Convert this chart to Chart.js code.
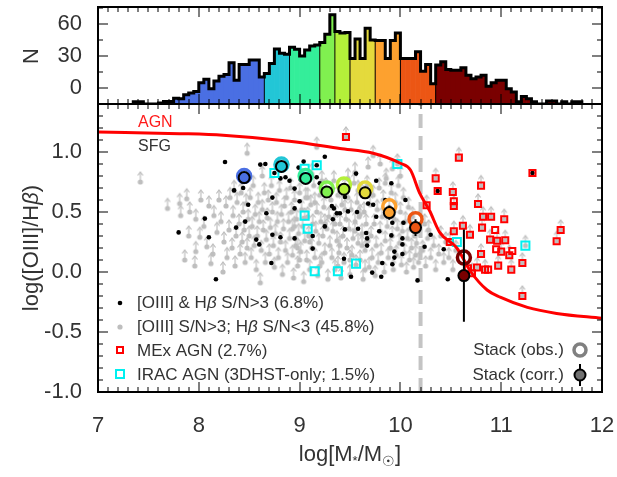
<!DOCTYPE html>
<html>
<head>
<meta charset="utf-8">
<script src="https://cdn.jsdelivr.net/npm/chart.js@4.4.1/dist/chart.umd.min.js"></script>
<style>
  html, body { margin: 0; padding: 0; background: #fff; }
  #wrap { position: relative; width: 617px; height: 477px; }
  #wrap canvas { position: absolute; left: 0; top: 0; }
</style>
</head>
<body>
<div id="wrap">
  <canvas id="massChart" width="617" height="477"></canvas>
  <canvas id="histChart" width="617" height="477"></canvas>
  <canvas id="frameLayer" width="617" height="477"></canvas>
</div>
<script>
// ---- data ----

// stellar mass histogram, 0.05 dex bins starting at 7.35 (N)
const histStart = 7.35;
const histWidth = 0.05;
const histN = [
  -13, -13, -15, -15, -15, -14, -12.6, -12.6, -9.5, -10, -6.3, -4.7, -3.2, 5, 8.2, -0.6, 6.6, 11, 12.6, 23.7, 7.3, 22, 22, 26.2, 26.2, 10.4,
  13.6, 23, 36.6, 32.5, 31.6,
  38.2, 36.3, 30, 35.7, 39.5, 40.4,
  42.6, 50.5, 68.8,
  53, 51.5, 52,
  27.8, 46, 27.8, 56, 45,
  44.5, 44.5, 27.8, 44.5, 51.5,
  27.8, 27.8, 27.8, 34, 15.8, 22, 4.1,
  21.5, 24.6, 17.4, 16.7, 16.7, 18.9, 12, 8.8, 10.4, 12, 1.6, 5, 7.3, 7.3, -0.6, -3.8, -13, -7.9, -10, -13, -15, -15, -12.3, -12.3, -15, -13, -15, -13, -13
];
// edges of the stacking mass bins and their colours
const groupEdges = [8.65, 8.90, 9.20, 9.35, 9.50, 9.75, 10.00, 10.35];
const groupColors = ['#4a6fe3', '#22c6d6', '#34ee9a', '#80f050', '#b4f03a', '#e4da3c', '#fda12f', '#ec5614', '#7a0000'];

// stacks
const stackX = [8.45, 8.82, 9.06, 9.27, 9.44, 9.65, 9.89, 10.15, 10.63];
const stackObsY = [0.80, 0.895, 0.80, 0.695, 0.73, 0.695, 0.548, 0.44, 0.12];
const stackCorrY = [0.787, 0.88, 0.78, 0.667, 0.69, 0.66, 0.495, 0.37, -0.03];
const stackErr = [0.03, 0.03, 0.04, 0.04, 0.04, 0.05, 0.06, 0.07, 0.385];

// MEx demarcation curve
const mexCurveX = [7.0, 7.81, 8.24, 8.90, 9.40, 9.73, 10.0, 10.10, 10.19, 10.29, 10.39, 10.56, 10.70, 10.86, 10.99, 11.26, 11.55, 12.0];
const mexCurveY = [1.167, 1.153, 1.14, 1.09, 1.03, 0.99, 0.906, 0.85, 0.66, 0.51, 0.33, 0.20, 0.0, -0.15, -0.21, -0.295, -0.345, -0.385];
const divideX = 10.2;

// [OIII] & Hb S/N>3
const blackPts = [
  [8.26,0.917],[8.61,0.895],[8.66,0.90],[8.75,0.825],[9.04,0.92],[9.25,0.96],[8.99,0.87],[8.81,0.78],[8.86,0.79],[8.90,0.76],
  [9.01,0.77],[8.95,0.695],[9.17,0.79],[9.20,0.74],[8.44,0.70],[8.35,0.68],[8.73,0.62],[8.49,0.56],[9.00,0.59],[8.95,0.53],
  [9.45,0.625],[9.32,0.55],[9.34,0.53],[9.37,0.49],[9.40,0.49],[9.48,0.505],[9.33,0.44],[9.56,0.82],[8.67,0.49],[8.06,0.445],
  [8.46,0.42],[8.37,0.37],[7.80,0.33],[8.10,0.29],[8.73,0.31],[8.81,0.29],[8.57,0.27],[8.60,0.23],[8.95,0.28],[9.13,0.30],
  [9.25,0.38],[9.45,0.355],[9.13,0.195],[9.44,0.11],[8.72,0.075],[9.51,-0.04],[8.17,-0.06],[9.76,0.76],[9.91,0.74],[9.85,0.60],
  [10.05,0.60],[9.57,0.50],[9.68,0.57],[9.73,0.56],[9.76,0.46],[9.92,0.41],[10.03,0.41],[9.58,0.36],[9.66,0.325],[9.79,0.34],
  [9.67,0.28],[9.91,0.305],[10.02,0.28],[10.02,0.23],[9.67,0.22],[9.94,0.17],[10.02,0.15],[10.24,0.21],[10.30,0.31],[10.43,0.19],
  [9.82,0.075],[9.92,0.065],[9.94,0.12],[9.72,-0.005],[9.81,-0.04],[10.17,-0.07],[10.47,-0.06],[11.31,0.825],[10.37,0.675],[9.17,0.89]
];

// [OIII] S/N>3, Hb S/N<3 (lower limits)
const grayPts = [
  [7.42,0.75],[7.69,0.53],[7.81,0.57],[7.88,0.61],[7.82,0.47],[7.91,0.50],[7.97,0.44],[7.86,0.10],[7.97,0.17],[8.01,0.29],
  [8.08,0.21],[8.12,0.07],[7.96,0.05],[8.05,0.38],[8.10,0.55],[8.15,0.47],[8.18,0.33],[8.02,0.60],[8.14,0.15],[7.90,0.30],[8.20,0.60],
  [8.22,0.42],[8.25,0.25],[8.27,0.55],[8.28,0.12],[8.30,0.35],[8.31,0.62],[8.33,0.20],[8.34,0.47],[8.36,0.05],[8.37,0.30],
  [8.38,0.58],[8.40,0.40],[8.41,0.15],[8.42,0.66],[8.43,0.25],[8.44,0.50],[8.45,0.35],[8.46,0.08],[8.47,0.57],[8.48,0.99],
  [8.48,0.20],[8.49,0.44],[8.50,0.30],[8.35,0.68],[8.24,0.00],
  [8.51,0.62],[8.52,0.12],[8.53,0.38],[8.54,0.72],[8.55,0.22],[8.56,0.48],[8.57,0.02],[8.58,0.30],[8.59,0.58],[8.60,0.42],
  [8.61,-0.09],[8.62,0.18],[8.63,0.80],[8.63,0.52],[8.64,0.35],[8.65,0.66],[8.66,0.08],[8.67,0.27],[8.68,0.45],[8.69,0.60],
  [8.70,0.15],[8.71,0.37],[8.72,0.72],[8.73,0.50],[8.74,0.22],[8.75,0.04],[8.76,0.32],[8.77,0.58],[8.78,0.42],[8.79,0.12],
  [8.80,0.68],[8.81,0.25],[8.82,0.48],[8.83,-0.02],[8.84,0.36],[8.85,0.55],[8.86,0.18],[8.87,0.62],[8.88,0.08],[8.89,0.42],
  [8.90,0.28],[8.91,0.70],[8.92,0.50],[8.93,0.14],[8.93,0.36],[8.94,-0.05],[8.95,0.60],[8.96,0.22],[8.97,0.44],[8.98,0.05],
  [8.99,0.32],[9.00,0.66],[9.01,0.17],[9.02,0.52],[9.03,0.38],[9.04,-0.08],[9.05,0.26],[9.06,0.62],[9.07,0.10],[9.08,0.46],
  [9.09,0.30],[9.10,0.02],[9.11,0.56],[9.12,0.20],[9.13,0.40],[9.14,0.72],[9.15,0.12],[9.16,0.34],[9.17,0.50],[9.17,1.04],
  [9.18,-0.03],[9.19,0.24],[9.20,0.64],[9.21,0.42],[9.22,0.08],[9.23,0.30],[9.24,0.54],[9.25,0.16],[9.26,0.70],[9.27,0.36],
  [9.28,-0.06],[9.29,0.46],[9.30,0.22],[8.95,0.38],[9.00,0.10],[9.05,0.45],[9.10,0.25],[9.15,0.58],[9.20,0.05],[9.25,0.40],
  [9.02,0.78],[9.12,0.82],[9.22,0.76],[8.98,0.20],[9.08,0.62],
  [9.31,0.60],[9.32,0.12],[9.33,0.34],[9.34,0.76],[9.35,0.02],[9.36,0.48],[9.37,0.26],[9.38,0.64],[9.39,0.16],[9.40,0.40],
  [9.41,-0.05],[9.42,0.56],[9.43,0.30],[9.44,0.08],[9.45,0.70],[9.46,0.44],[9.47,0.20],[9.48,0.62],[9.49,0.36],[9.50,-0.02],
  [9.51,0.52],[9.52,0.14],[9.53,0.28],[9.54,0.74],[9.55,0.42],[9.55,0.83],[9.56,0.06],[9.57,0.58],[9.58,0.24],[9.59,0.46],
  [9.60,0.10],[9.61,0.66],[9.62,0.32],[9.63,-0.06],[9.64,0.50],[9.65,0.18],[9.66,0.40],[9.67,0.72],[9.68,0.26],[9.68,0.875],
  [9.69,0.04],[9.70,0.56],[9.35,0.40],[9.40,0.22],[9.45,0.52],[9.50,0.10],[9.55,0.34],[9.60,0.48],[9.65,0.02],[9.38,0.05],
  [9.48,0.78],[9.58,0.68],[9.62,0.22],
  [9.71,0.30],[9.72,0.12],[9.73,0.97],[9.73,0.64],[9.74,0.40],[9.75,-0.03],[9.76,0.22],[9.77,0.52],[9.78,0.08],[9.79,0.70],
  [9.80,0.34],[9.81,0.16],[9.82,0.46],[9.83,0.60],[9.84,0.00],[9.85,0.26],[9.86,0.78],[9.87,0.38],[9.88,0.12],[9.89,0.54],
  [9.90,0.20],[9.91,0.66],[9.92,0.30],[9.93,0.02],[9.94,0.44],[9.95,0.58],[9.96,0.14],[9.97,0.36],[9.98,0.72],[9.99,0.24],
  [10.00,0.50],[10.01,0.06],[10.02,0.34],[10.03,0.62],[10.04,0.16],[10.05,0.42],[10.06,0.00],[10.07,0.28],[10.08,0.54],[10.09,0.10],
  [10.10,0.36],[10.11,0.20],[10.12,0.46],[10.13,0.04],[10.14,0.30],[10.15,0.14],[10.16,0.24],[10.18,0.08],[9.80,0.90],[9.92,0.86],
  [9.85,0.74],[10.00,0.80],
  [10.22,0.18],[10.25,0.05],[10.27,0.28],[10.30,0.12],[10.33,0.22],[10.35,0.02],[10.38,0.15],[10.40,0.30],[10.43,0.08],[10.45,0.25],
  [10.48,0.12],[10.52,0.02],[10.55,0.18],[10.24,0.40],[10.28,0.35]
];

// MEx AGN (lim = 1: Hb lower limit arrow)
const mexX = [9.46, 10.58, 11.31, 10.35, 10.37, 10.52, 10.80, 10.53, 10.53, 10.26, 10.77, 10.82, 10.90, 11.03, 10.81, 10.94, 10.62, 10.53, 10.69, 10.49,
              10.89, 10.96, 11.04, 10.95, 11.00, 11.11, 11.08, 10.80, 11.21, 10.97, 10.84, 10.87, 10.76, 10.71, 11.10, 10.67, 11.59, 11.55, 11.21];
const mexY = [1.125, 0.953, 0.825, 0.78, 0.675, 0.667, 0.72, 0.59, 0.55, 0.556, 0.567, 0.46, 0.46, 0.44, 0.37, 0.35, 0.385, 0.34, 0.31, 0.25,
              0.27, 0.26, 0.264, 0.19, 0.17, 0.175, 0.14, 0.15, 0.075, 0.053, 0.02, 0.02, 0.037, -0.01, 0.02, 0.03, 0.35, 0.256, -0.20];
const mexLim = [1, 1, 0, 1, 0, 1, 1, 0, 1, 1, 1, 1, 1, 1, 1, 0, 1, 1, 1, 1,
                1, 1, 1, 0, 1, 0, 1, 1, 1, 1, 1, 0, 1, 1, 1, 0, 1, 1, 1];

// IRAC AGN
const iracX = [9.17, 8.75, 9.05, 9.05, 9.08, 9.15, 9.38, 9.56, 9.97, 10.56, 11.24];
const iracY = [0.89, 0.825, 0.86, 0.47, 0.36, 0.006, 0.006, 0.07, 0.90, 0.25, 0.22];
const iracLim = [0, 0, 0, 0, 0, 0, 0, 0, 1, 0, 1];

const xTicks = [7, 8, 9, 10, 11, 12];
const yTicks = [-1.0, -0.5, 0.0, 0.5, 1.0];
const nTicks = [0, 30, 60];

// ---- styling helpers ----
const FONT = '"Liberation Sans", Arial, Helvetica, sans-serif';
const TXT = '#333';
const GRAY = '#bebebe';
Chart.defaults.font.family = FONT;
Chart.defaults.animation = false;

function arrowMarker(color) {
  const c = document.createElement('canvas');
  c.width = 10; c.height = 26;
  const g = c.getContext('2d');
  g.fillStyle = color; g.strokeStyle = color; g.lineWidth = 1.2;
  g.beginPath(); g.arc(5, 13, 2.6, 0, Math.PI * 2); g.fill();
  g.beginPath(); g.moveTo(5, 13); g.lineTo(5, 3.5); g.stroke();
  g.beginPath(); g.moveTo(2.4, 6.5); g.lineTo(5, 3); g.lineTo(7.6, 6.5); g.stroke();
  return c;
}
const grayArrow = arrowMarker(GRAY);

function drawRich(ctx, parts, x, y, align) {
  let w = 0;
  parts.forEach(p => { ctx.font = (p[2] ? 'italic ' : '') + p[1] + 'px ' + FONT; w += ctx.measureText(p[0]).width; });
  let cx = align === 'right' ? x - w : (align === 'center' ? x - w / 2 : x);
  parts.forEach(p => {
    ctx.font = (p[2] ? 'italic ' : '') + p[1] + 'px ' + FONT;
    ctx.fillText(p[0], cx, y + (p[3] || 0));
    cx += ctx.measureText(p[0]).width;
  });
}

// frame + inward ticks on all four sides, placed with a chart's scales,
// painted onto the overlay layer
function drawFrame(ctx, chart, xMinor, xMajor, yMinor, yMajor) {
  const xs = chart.scales.x, ys = chart.scales.y;
  const L = Math.round(xs.getPixelForValue(xs.min)), R = Math.round(xs.getPixelForValue(xs.max));
  const T = Math.round(ys.getPixelForValue(ys.max)), B = Math.round(ys.getPixelForValue(ys.min));
  ctx.save();
  ctx.fillStyle = '#000';
  for (let k = 0; xs.min + k * xMinor <= xs.max + 1e-6; k++) {
    const v = xs.min + k * xMinor;
    const px = Math.round(xs.getPixelForValue(v));
    const major = Math.abs(v / xMajor - Math.round(v / xMajor)) < 1e-6;
    const len = major ? 10 : 5;
    ctx.fillRect(px - 0.5, B - len, 1, len);
    ctx.fillRect(px - 0.5, T, 1, len);
  }
  for (let k = 0; yMinor.start + k * yMinor.step <= ys.max + 1e-6; k++) {
    const v = yMinor.start + k * yMinor.step;
    const py = Math.round(ys.getPixelForValue(v));
    const major = Math.abs(v / yMajor - Math.round(v / yMajor)) < 1e-6;
    const len = major ? 10 : 5;
    ctx.fillRect(L, py - 0.5, len, 1);
    ctx.fillRect(R - len, py - 0.5, len, 1);
  }
  ctx.fillRect(L - 1, T - 1, R - L + 2, 2);
  ctx.fillRect(L - 1, B - 1, R - L + 2, 2);
  ctx.fillRect(L - 1, T - 1, 2, B - T + 2);
  ctx.fillRect(R - 1, T - 1, 2, B - T + 2);
  ctx.restore();
}

// ---- top panel: histogram ----
const binX = histN.map((n, i) => +(histStart + histWidth * (i + 0.5)).toFixed(3));
const binColor = binX.map(x => groupColors[groupEdges.filter(e => x > e).length]);
const outline = [{ x: histStart, y: -15 }];
histN.forEach((n, i) => outline.push({ x: histStart + histWidth * i, y: n }));
outline.push({ x: histStart + histWidth * histN.length, y: -15 });

const histPlugin = {
  id: 'histDecor',
  afterDatasetsDraw(chart) {
    const ctx = chart.ctx, xs = chart.scales.x, ys = chart.scales.y;
    ctx.save();
    ctx.fillStyle = '#000';
    groupEdges.forEach(e => {
      const i = Math.round((e - histStart) / histWidth);
      const top = Math.min(histN[i - 1], histN[i]);
      const px = xs.getPixelForValue(e);
      const y0 = ys.getPixelForValue(-15), y1 = ys.getPixelForValue(top);
      ctx.fillRect(px - 0.5, y1, 1, y0 - y1);
    });
    ctx.restore();
  },
  afterDraw(chart) {
    const ctx = chart.ctx;
    ctx.save();
    ctx.fillStyle = TXT;
    ctx.translate(32, 56);
    ctx.rotate(-Math.PI / 2);
    ctx.textAlign = 'center';
    ctx.textBaseline = 'middle';
    ctx.font = '22px ' + FONT;
    ctx.fillText('N', 0, 0);
    ctx.restore();
  }
};

const histChart = new Chart(document.getElementById('histChart'), {
  type: 'bar',
  data: {
    datasets: [
      {
        type: 'line',
        data: outline,
        stepped: 'before',
        borderColor: '#000',
        borderWidth: 3,
        pointRadius: 0,
        fill: false,
        order: 0
      },
      {
        type: 'bar',
        data: binX.map((x, i) => ({ x: x, y: histN[i] })),
        base: -15,
        backgroundColor: binColor,
        borderWidth: 0,
        barPercentage: 1,
        categoryPercentage: 1,
        order: 1
      }
    ]
  },
  options: {
    responsive: false,
    devicePixelRatio: 1,
    layout: { padding: { top: 7, bottom: 373, left: 0, right: 15 } },
    plugins: { legend: { display: false }, tooltip: { enabled: false } },
    scales: {
      x: { type: 'linear', min: 7, max: 12, offset: false, display: false },
      y: {
        min: -15, max: 76,
        grid: { display: false },
        border: { display: false },
        afterFit: s => { s.width = 98; s.paddingTop = 0; s.paddingBottom = 0; },
        afterBuildTicks: s => { s.ticks = nTicks.map(v => ({ value: v })); },
        ticks: { color: TXT, font: { size: 22 }, padding: 8 }
      }
    }
  },
  plugins: [histPlugin]
});

// ---- bottom panel: [OIII]/Hb vs mass ----
const grayData = grayPts.map(p => ({ x: p[0], y: p[1] }))
  .concat(mexX.map((x, i) => ({ x: x, y: mexY[i] })).filter((p, i) => mexLim[i]))
  .concat(iracX.map((x, i) => ({ x: x, y: iracY[i] })).filter((p, i) => iracLim[i]));
const errData = [];
stackX.forEach((x, i) => {
  errData.push({ x: x, y: stackCorrY[i] - stackErr[i] }, { x: x, y: stackCorrY[i] + stackErr[i] }, { x: x, y: null });
});

const massPlugin = {
  id: 'massDecor',
  afterDraw(chart) {
    const ctx = chart.ctx;
    ctx.save();
    ctx.textBaseline = 'middle';
    // region labels
    ctx.fillStyle = '#ff1a1a';
    drawRich(ctx, [['AGN', 16]], 138, 123, 'left');
    ctx.fillStyle = TXT;
    drawRich(ctx, [['SFG', 16]], 138, 147, 'left');

    // left legend
    ctx.fillStyle = '#000';
    ctx.beginPath(); ctx.arc(120, 303, 2.3, 0, Math.PI * 2); ctx.fill();
    ctx.fillStyle = GRAY;
    ctx.beginPath(); ctx.arc(120, 327, 2.6, 0, Math.PI * 2); ctx.fill();
    ctx.strokeStyle = '#ff0000'; ctx.lineWidth = 2;
    ctx.strokeRect(117, 347, 6, 6);
    ctx.strokeStyle = '#00f0f0'; ctx.lineWidth = 2;
    ctx.strokeRect(116, 370, 8, 8);
    ctx.fillStyle = TXT;
    drawRich(ctx, [['[OIII] & H', 17], ['\u03b2', 17, true], [' S/N>3 (6.8%)', 17]], 137, 303, 'left');
    drawRich(ctx, [['[OIII] S/N>3; H', 17], ['\u03b2', 17, true], [' S/N<3 (45.8%)', 17]], 137, 327, 'left');
    drawRich(ctx, [['MEx AGN (2.7%)', 17]], 137, 351, 'left');
    drawRich(ctx, [['IRAC AGN (3DHST-only; 1.5%)', 17]], 137, 375, 'left');

    // right legend
    drawRich(ctx, [['Stack (obs.)', 17]], 564, 350, 'right');
    drawRich(ctx, [['Stack (corr.)', 17]], 564, 375, 'right');
    ctx.strokeStyle = '#808080'; ctx.lineWidth = 3.5;
    ctx.beginPath(); ctx.arc(580, 350, 6, 0, Math.PI * 2); ctx.stroke();
    ctx.strokeStyle = '#000'; ctx.lineWidth = 2;
    ctx.beginPath(); ctx.moveTo(580, 364); ctx.lineTo(580, 386); ctx.stroke();
    ctx.fillStyle = '#707070';
    ctx.beginPath(); ctx.arc(580, 375, 5.5, 0, Math.PI * 2); ctx.fill(); ctx.stroke();

    // axis titles
    ctx.fillStyle = TXT;
    ctx.save();
    ctx.translate(32, 248);
    ctx.rotate(-Math.PI / 2);
    drawRich(ctx, [['log([OIII]/H', 22], ['\u03b2', 22, true], [')', 22]], 0, 0, 'center');
    ctx.restore();
    drawRich(ctx, [['log[M', 22], ['*', 13, false, 6], ['/M', 22], ['\u2609', 14, false, 7], [']', 22]], 350, 455, 'center');
    ctx.restore();
  }
};

const massChart = new Chart(document.getElementById('massChart'), {
  type: 'scatter',
  data: {
    datasets: [
      { // corrected stacks
        data: stackX.map((x, i) => ({ x: x, y: stackCorrY[i] })),
        pointStyle: 'circle', pointRadius: 5.5, pointBorderWidth: 2,
        pointBorderColor: '#000', pointBackgroundColor: groupColors, order: 0
      },
      { // error bars
        type: 'line', data: errData, borderColor: '#000', borderWidth: 2,
        pointRadius: 0, spanGaps: false, order: 1
      },
      { // observed stacks
        data: stackX.map((x, i) => ({ x: x, y: stackObsY[i] })),
        pointStyle: 'circle', pointRadius: 6.5, pointBorderWidth: 3.5,
        pointBorderColor: groupColors, pointBackgroundColor: 'rgba(0,0,0,0)', order: 2
      },
      { // MEx curve
        type: 'line', data: mexCurveX.map((x, i) => ({ x: x, y: mexCurveY[i] })),
        borderColor: '#ff0000', borderWidth: 3, pointRadius: 0,
        cubicInterpolationMode: 'monotone', order: 3
      },
      { // IRAC AGN
        data: iracX.map((x, i) => ({ x: x, y: iracY[i] })),
        pointStyle: 'rect', pointRadius: 5.7, pointBorderWidth: 2,
        pointBorderColor: '#00f0f0', pointBackgroundColor: 'rgba(0,0,0,0)', order: 4
      },
      { // MEx AGN
        data: mexX.map((x, i) => ({ x: x, y: mexY[i] })),
        pointStyle: 'rect', pointRadius: 4.3, pointBorderWidth: 2,
        pointBorderColor: '#ff0000', pointBackgroundColor: 'rgba(0,0,0,0)', order: 5
      },
      { // S/N>3 both lines
        data: blackPts.map(p => ({ x: p[0], y: p[1] })),
        pointStyle: 'circle', pointRadius: 2.3, pointBorderWidth: 0,
        pointBackgroundColor: '#000', order: 6
      },
      { // Hb lower limits
        data: grayData,
        pointStyle: grayArrow, pointRadius: 3, order: 7
      },
      { // dividing mass
        type: 'line', data: [{ x: divideX, y: -1.0 }, { x: divideX, y: 1.4 }],
        borderColor: '#c4c4c4', borderWidth: 4, borderDash: [14, 8], pointRadius: 0, order: 8
      }
    ]
  },
  options: {
    responsive: false,
    devicePixelRatio: 1,
    layout: { padding: { top: 104, bottom: 0, left: 0, right: 15 } },
    plugins: { legend: { display: false }, tooltip: { enabled: false } },
    scales: {
      x: {
        type: 'linear', min: 7, max: 12,
        grid: { display: false }, border: { display: false },
        afterFit: s => { s.height = 85; s.paddingLeft = 0; s.paddingRight = 0; },
        afterBuildTicks: s => { s.ticks = xTicks.map(v => ({ value: v })); },
        ticks: { color: TXT, font: { size: 22 }, padding: 13 }
      },
      y: {
        min: -1.0, max: 1.4,
        grid: { display: false }, border: { display: false },
        afterFit: s => { s.width = 98; s.paddingTop = 0; s.paddingBottom = 0; },
        afterBuildTicks: s => { s.ticks = yTicks.map(v => ({ value: v })); },
        ticks: { color: TXT, font: { size: 22 }, padding: 8, callback: v => v.toFixed(1) }
      }
    }
  },
  plugins: [massPlugin]
});

// ---- frames on their own layer above both charts ----
const layer = document.getElementById('frameLayer').getContext('2d');
layer.clearRect(0, 0, 617, 477);
drawFrame(layer, histChart, 0.1, 1, { start: -15, step: 15 }, 30);
drawFrame(layer, massChart, 0.1, 1, { start: -1.0, step: 0.1 }, 0.5);
</script>
</body>
</html>
